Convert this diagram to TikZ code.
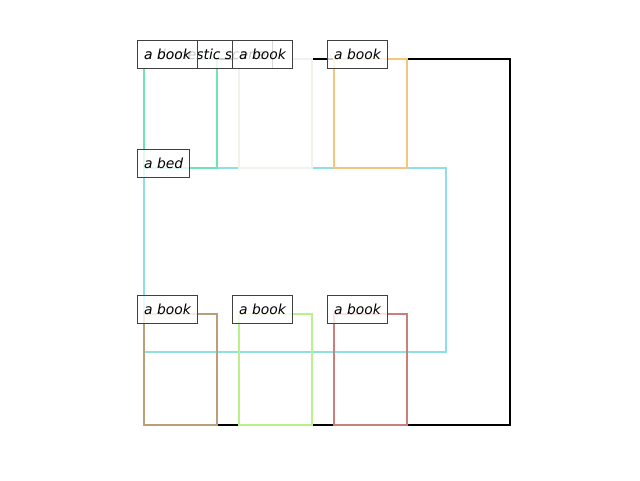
\documentclass[tikz,border=0pt]{standalone}
\usepackage{fontspec}
\setmainfont{DejaVu Sans}
\definecolor{scenecol}{RGB}{0,0,0}
\definecolor{bedcol}{RGB}{145,223,230}
\definecolor{mintcol}{RGB}{110,230,180}
\definecolor{palecol}{RGB}{240,242,236}
\definecolor{orangecol}{RGB}{245,196,125}
\definecolor{tancol}{RGB}{185,160,120}
\definecolor{limecol}{RGB}{185,242,140}
\definecolor{rosecol}{RGB}{200,128,122}
\begin{document}
\begin{tikzpicture}[x=0.75pt,y=-0.75pt,
  box/.style={line width=1.5pt},
  tag/.style={draw=black!75,line width=0.75pt,fill=white,fill opacity=0.8,text opacity=1,
    anchor=west,inner xsep=5pt,minimum height=21pt,font=\fontsize{10.4}{12}\selectfont\itshape}]
\useasboundingbox (0,0) rectangle (640,480);
\pgfmathsetmacro{\w}{73}
% scene and bed
\draw[box,scenecol](144,59)rectangle(510,425);
\draw[box,bedcol](144,168)rectangle(446,352);
% books, top row
\draw[box,mintcol](144,59)rectangle++(\w,109);
\draw[box,palecol](239,59)rectangle++(\w,109);
\draw[box,orangecol](334,59)rectangle++(\w,109);
% books, bottom row
\draw[box,tancol](144,314)rectangle++(\w,111);
\draw[box,limecol](239,314)rectangle++(\w,111);
\draw[box,rosecol](334,314)rectangle++(\w,111);
% labels
\node[tag](scene) at (137,54.5){a domestic scene};
\node[tag](bed) at (137,163.5){a bed};
\node[tag](bookA) at (137,54.5){a book};
\node[tag](bookB) at (232,54.5){a book};
\node[tag](bookC) at (327,54.5){a book};
\node[tag](bookD) at (137,309.5){a book};
\node[tag](bookE) at (232,309.5){a book};
\node[tag](bookF) at (327,309.5){a book};
\end{tikzpicture}
\end{document}
